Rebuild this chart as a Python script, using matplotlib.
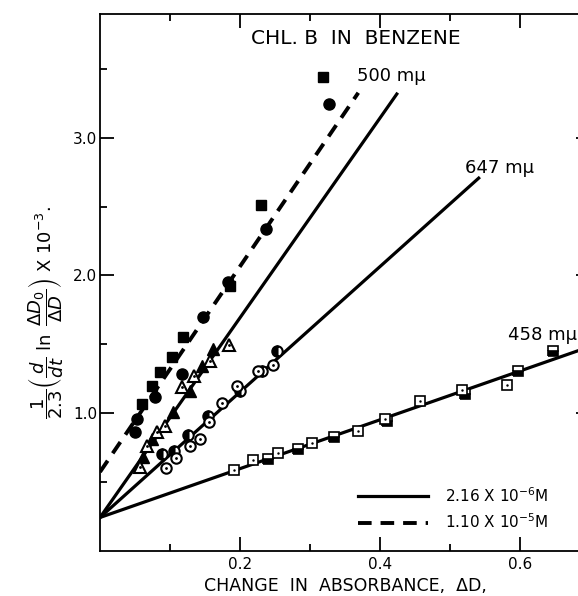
import matplotlib
matplotlib.use("Agg")
import matplotlib.pyplot as plt
from matplotlib.lines import Line2D
import numpy as np

plt.rcParams['font.family'] = ['DejaVu Sans']

# ---- data ----
# dashed group, 1.10e-5 M, 500 mμ
d_sq_x = [0.060, 0.074, 0.086, 0.103, 0.119, 0.186, 0.230, 0.319]
d_sq_y = [1.065, 1.196, 1.298, 1.407, 1.553, 1.924, 2.513, 3.444]
d_ci_x = [0.050, 0.053, 0.079, 0.117, 0.147, 0.183, 0.237, 0.327]
d_ci_y = [0.862, 0.956, 1.116, 1.284, 1.698, 1.953, 2.338, 3.247]

# 500 mμ, 2.16e-6 M: triangles
t_open_x = [0.057, 0.067, 0.081, 0.093, 0.117, 0.134, 0.157, 0.184]
t_open_y = [0.607, 0.760, 0.862, 0.905, 1.189, 1.269, 1.378, 1.495]
t_fill_x = [0.061, 0.074, 0.104, 0.129, 0.146, 0.161]
t_fill_y = [0.680, 0.811, 1.007, 1.160, 1.342, 1.465]

# 647 mμ: circles
c_open_x = [0.094, 0.109, 0.129, 0.143, 0.156, 0.174, 0.196, 0.226, 0.247]
c_open_y = [0.600, 0.673, 0.760, 0.811, 0.935, 1.073, 1.196, 1.305, 1.349]
c_half_x = [0.089, 0.106, 0.126, 0.154, 0.200, 0.231, 0.253]
c_half_y = [0.702, 0.724, 0.840, 0.978, 1.160, 1.305, 1.451]

# 458 mμ: squares
s_open_x = [0.191, 0.219, 0.254, 0.303, 0.369, 0.407, 0.457, 0.517, 0.581]
s_open_y = [0.585, 0.658, 0.709, 0.782, 0.869, 0.956, 1.087, 1.167, 1.204]
s_half_x = [0.240, 0.283, 0.334, 0.410, 0.521, 0.597, 0.647]
s_half_y = [0.665, 0.738, 0.825, 0.942, 1.138, 1.305, 1.451]

# fitted lines: intercept, slope, x end
fit_names = ['500', '647', '458', '500d']
fit_intercept = [0.24, 0.24, 0.24, 0.571]
fit_slope = [7.26, 4.56, 1.775, 7.47]
fit_xend = [0.424, 0.541, 0.70, 0.369]
fit_style = ['-', '-', '-', '--']

line_labels = ['500 mμ', '647 mμ', '458 mμ']
label_x = [0.367, 0.521, 0.583]
label_y = [3.45, 2.78, 1.57]

W, H = 578, 596
fig = plt.figure(figsize=(W / 100, H / 100), dpi=100)
ax = fig.add_axes([100 / W, 45.5 / H, 490 / W, 536.5 / H])
ax.set_xlim(0, 0.70)
ax.set_ylim(0, 3.90)

lw = 2.3
dash = (0, (3.5, 2.3))
for a, b, xe, ls in zip(fit_intercept, fit_slope, fit_xend, fit_style):
    xs = np.array([0.0, xe])
    if ls == '--':
        ax.plot(xs, a + b * xs, color='black', lw=lw + 0.5, ls=dash,
                dash_capstyle='butt', zorder=2)
    else:
        ax.plot(xs, a + b * xs, color='black', lw=lw, ls='-', zorder=2)

k = 'black'
# dashed group markers
ax.plot(d_sq_x, d_sq_y, 's', color=k, ms=7.5, zorder=3)
ax.plot(d_ci_x, d_ci_y, 'o', color=k, ms=8, zorder=3)
# triangles
ax.plot(t_fill_x, t_fill_y, '^', color=k, ms=8.5, zorder=3)
ax.plot(t_open_x, t_open_y, '^', mfc='white', mec=k, mew=1.5, ms=8.5, zorder=4)
ax.plot(t_open_x, t_open_y, '.', color=k, ms=2, zorder=5)
# circles
ax.plot(c_half_x, c_half_y, 'o', mfc=k, mfcalt='white', fillstyle='left',
        mec=k, mew=1.5, ms=7.5, zorder=3)
ax.plot(c_open_x, c_open_y, 'o', mfc='white', mec=k, mew=1.5, ms=7.5, zorder=4)
ax.plot(c_open_x, c_open_y, '.', color=k, ms=2, zorder=5)
# squares
ax.plot(s_half_x, s_half_y, 's', mfc=k, mfcalt='white', fillstyle='bottom',
        mec=k, mew=1.2, ms=7, zorder=3)
ax.plot(s_open_x, s_open_y, 's', mfc='white', mec=k, mew=1.2, ms=7, zorder=4)
ax.plot(s_open_x, s_open_y, '.', color=k, ms=1.5, zorder=5)

for t, x, y in zip(line_labels, label_x, label_y):
    ax.text(x, y, t, fontsize=13, ha='left', va='center')

ax.text(0.366, 3.72, 'CHL. B  IN  BENZENE', fontsize=14.5, ha='center', va='center')

# ticks
ax.set_xticks([0.2, 0.4, 0.6])
ax.set_xticklabels(['0.2', '0.4', '0.6'])
ax.set_xticks([0.1, 0.3, 0.5, 0.7], minor=True)
ax.set_yticks([1.0, 2.0, 3.0])
ax.set_yticklabels(['1.0', '2.0', '3.0'])
ax.set_yticks([0.5, 1.5, 2.5, 3.5], minor=True)
ax.tick_params(which='both', direction='in', top=True, right=True, width=1.3,
               labelsize=11)
ax.tick_params(axis='y', pad=2)
ax.tick_params(axis='x', pad=5)
ax.tick_params(which='major', length=10)
ax.tick_params(which='minor', length=5)
for s in ax.spines.values():
    s.set_linewidth(1.3)

ax.set_xlabel('CHANGE  IN  ABSORBANCE,  ΔD,', fontsize=12.5, labelpad=3)
ax.set_ylabel(r'$\dfrac{1}{2.3}\left(\dfrac{d}{dt}\ \ln\ \dfrac{\Delta D_0}{\Delta D}\right)$ X 10$^{-3}$.',
              fontsize=13)
ax.yaxis.set_label_coords(-34 / 490, (550.5 - 312) / 536.5)

handles = [Line2D([], [], color=k, lw=lw, ls='-'),
           Line2D([], [], color=k, lw=lw + 0.5, ls=dash)]
ax.legend(handles, ['2.16 X 10$^{-6}$M', '1.10 X 10$^{-5}$M'],
          loc='upper left', bbox_to_anchor=(258 / 490, (550.5 - 486) / 536.5),
          frameon=False, fontsize=11, handlelength=4.6, handletextpad=1.1,
          labelspacing=0.5, borderaxespad=0, borderpad=0)

fig.savefig('out.png', dpi=100)
